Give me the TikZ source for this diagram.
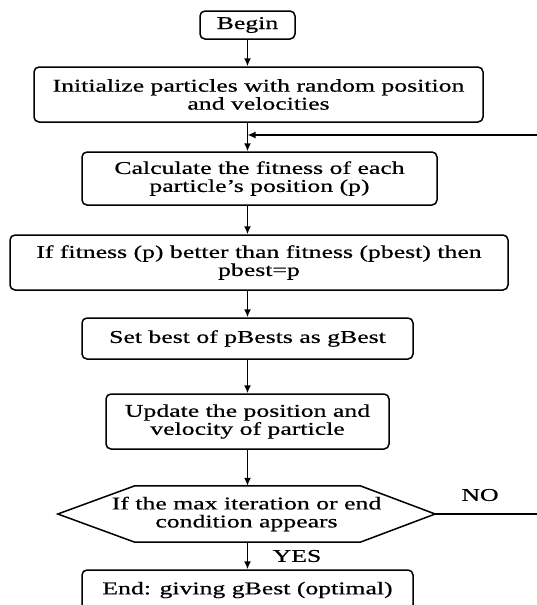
\documentclass[tikz,border=0pt]{standalone}
\usepackage{fontspec}
\setmainfont{Liberation Serif}[FakeStretch=1.43,FakeBold=0.6]
\usetikzlibrary{arrows.meta}
\begin{document}
\begin{tikzpicture}[x=1pt,y=1pt,
  font=\fontsize{18}{18}\selectfont,
  box/.style={draw, rounded corners=5pt, line width=1.5pt, align=center, inner sep=0pt},
  arr/.style={line width=1.5pt, -{Latex[length=8pt,width=7pt]}},
  lbl/.style={inner sep=0pt}]
\useasboundingbox (0,0) rectangle (537,-605);
\clip (0,0) rectangle (537,-605);
\node[box, minimum width=95, minimum height=28] (begin) at (247.5,-25) {Begin};
\node[box, minimum width=449, minimum height=55] (init) at (258.5,-94.5) {Initialize particles with random position\\and velocities};
\node[box, minimum width=355, minimum height=53] (calc) at (259.5,-178.5) {Calculate the fitness of each\\particle’s position (p)};
\node[box, minimum width=498, minimum height=55] (fit) at (259,-262.5) {If fitness (p) better than fitness (pbest) then\\pbest=p};
\node[box, minimum width=331, minimum height=41] (set) at (247.5,-338.5) {Set best of pBests as gBest};
\node[box, minimum width=283, minimum height=55] (upd) at (247.5,-421.5) {Update the position and\\velocity of particle};
\node[align=center, inner sep=0pt, minimum width=377, minimum height=56] (hex) at (246.5,-514) {If the max iteration or end\\condition appears};
\draw[line width=1.5pt, line join=miter] (hex.west) -- ([xshift=77]hex.north west) -- ([xshift=-75]hex.north east) -- (hex.east) -- ([xshift=-75]hex.south east) -- ([xshift=77]hex.south west) -- cycle;
\node[box, minimum width=331, minimum height=40] (end) at (247.5,-590) {End: giving gBest (optimal)};
\node[lbl] (yes) at (297,-556) {YES};
\node[lbl] (no) at (480,-495) {NO};
\coordinate (junc) at (begin.south |- 0,-135);
\draw[arr] (begin.south) -- (begin.south |- init.north);
\draw[arr] (begin.south |- init.south) -- (begin.south |- calc.north);
\draw[arr] (begin.south |- calc.south) -- (begin.south |- fit.north);
\draw[arr] (begin.south |- fit.south) -- (begin.south |- set.north);
\draw[arr] (set.south) -- (upd.north);
\draw[arr] (upd.south) -- (upd.south |- hex.north);
\draw[arr] (upd.south |- hex.south) -- (upd.south |- end.north);
\draw[arr] (hex.east) -- (560,-514) |- (junc);
\end{tikzpicture}
\end{document}
